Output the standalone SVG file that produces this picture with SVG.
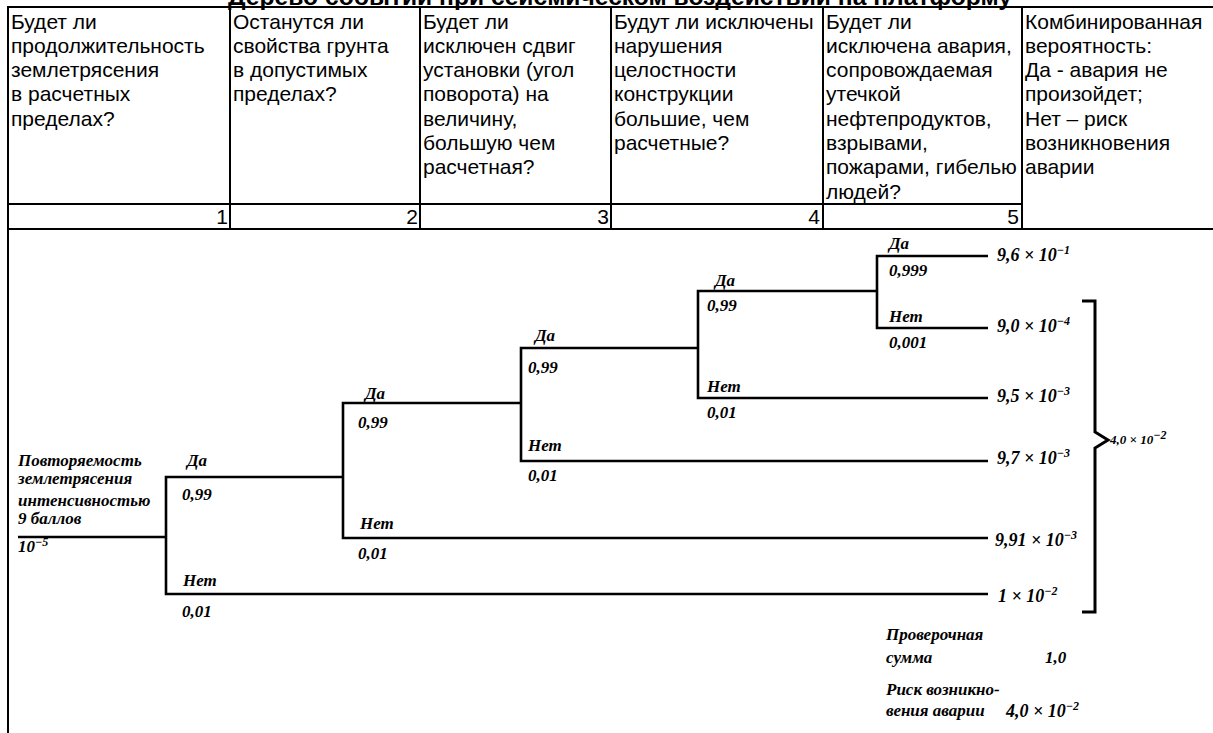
<svg xmlns="http://www.w3.org/2000/svg" width="1213" height="733" viewBox="0 0 1213 733">
<style>
.tl{stroke:#000;stroke-width:2;fill:none}
.th{font-family:"Liberation Sans",Arial,sans-serif;font-size:21px;fill:#000}
.num{text-anchor:end}
.title{font-family:"Liberation Sans",Arial,sans-serif;font-size:24px;font-weight:bold;fill:#000}
.lbl{font-family:"Liberation Serif","Times New Roman",serif;font-size:17px;font-weight:bold;font-style:italic;fill:#000}
.out{font-size:18px}
.sm{font-size:13px}
.sup{font-size:12px}
.br{stroke:#000;stroke-width:2.6;fill:none}
.bk{stroke:#000;stroke-width:3;fill:none;stroke-linejoin:miter}
</style>
<rect width="1213" height="733" fill="#fff"/>
<text class="title" x="228" y="5" textLength="784" lengthAdjust="spacingAndGlyphs">Дерево событий при сейсмическом воздействии на платформу</text>
<g id="table">
<path class="tl" d="M7,7 H1213 M7,204 H1022 M7,229 H1213 M8,7 V733 M230,7 V229 M420,7 V229 M611,7 V229 M823,7 V229 M1022,7 V229"/>
<text class="th" x="11" y="28.5"><tspan x="11">Будет ли</tspan><tspan x="11" dy="24.3">продолжительность</tspan><tspan x="11" dy="24.3">землетрясения</tspan><tspan x="11" dy="24.3">в расчетных</tspan><tspan x="11" dy="24.3">пределах?</tspan></text>
<text class="th" x="233" y="28.5"><tspan x="233">Останутся ли</tspan><tspan x="233" dy="24.3">свойства грунта</tspan><tspan x="233" dy="24.3">в допустимых</tspan><tspan x="233" dy="24.3">пределах?</tspan></text>
<text class="th" x="423" y="28.5"><tspan x="423">Будет ли</tspan><tspan x="423" dy="24.3">исключен сдвиг</tspan><tspan x="423" dy="24.3">установки (угол</tspan><tspan x="423" dy="24.3">поворота) на</tspan><tspan x="423" dy="24.3">величину,</tspan><tspan x="423" dy="24.3">большую чем</tspan><tspan x="423" dy="24.3">расчетная?</tspan></text>
<text class="th" x="614" y="28.5"><tspan x="614">Будут ли исключены</tspan><tspan x="614" dy="24.3">нарушения</tspan><tspan x="614" dy="24.3">целостности</tspan><tspan x="614" dy="24.3">конструкции</tspan><tspan x="614" dy="24.3">большие, чем</tspan><tspan x="614" dy="24.3">расчетные?</tspan></text>
<text class="th" x="826" y="28.5"><tspan x="826">Будет ли</tspan><tspan x="826" dy="24.3">исключена авария,</tspan><tspan x="826" dy="24.3">сопровождаемая</tspan><tspan x="826" dy="24.3">утечкой</tspan><tspan x="826" dy="24.3">нефтепродуктов,</tspan><tspan x="826" dy="24.3">взрывами,</tspan><tspan x="826" dy="24.3">пожарами, гибелью</tspan><tspan x="826" dy="24.3">людей?</tspan></text>
<text class="th" x="1025" y="28.5"><tspan x="1025">Комбинированная</tspan><tspan x="1025" dy="24.3">вероятность:</tspan><tspan x="1025" dy="24.3">Да - авария не</tspan><tspan x="1025" dy="24.3">произойдет;</tspan><tspan x="1025" dy="24.3">Нет – риск</tspan><tspan x="1025" dy="24.3">возникновения</tspan><tspan x="1025" dy="24.3">аварии</tspan></text>
<text class="th num" x="228" y="224">1</text>
<text class="th num" x="418" y="224">2</text>
<text class="th num" x="609" y="224">3</text>
<text class="th num" x="820" y="224">4</text>
<text class="th num" x="1019" y="224">5</text>
</g>
<g id="connectors">
<path class="br" d="M18,537 H166"/>
<path class="br" d="M343,477 H166 V594 H988"/>
<path class="br" d="M521,403 H343 V538 H988"/>
<path class="br" d="M698,348 H521 V461 H988"/>
<path class="br" d="M877,291 H698 V398 H988"/>
<path class="br" d="M988,256 H877 V328 H988"/>
<path class="bk" d="M1082,301 H1095 V432 L1108,440 L1095,448 V612 H1082"/>
</g>
<g id="node-root">
<text class="lbl" x="18" y="466">Повторяемость</text>
<text class="lbl" x="18" y="484">землетрясения</text>
<text class="lbl" x="18" y="506">интенсивностью</text>
<text class="lbl" x="18" y="524">9 баллов</text>
<text class="lbl" x="18" y="552">10<tspan class="sup" dy="-6">−5</tspan></text>
</g>
<g id="node-1">
<text class="lbl" x="187" y="466">Да</text>
<text class="lbl" x="182" y="500">0,99</text>
<text class="lbl" x="183" y="586">Нет</text>
<text class="lbl" x="182" y="617">0,01</text>
</g>
<g id="node-2">
<text class="lbl" x="365" y="399">Да</text>
<text class="lbl" x="358" y="428">0,99</text>
<text class="lbl" x="360" y="529">Нет</text>
<text class="lbl" x="358" y="559">0,01</text>
</g>
<g id="node-3">
<text class="lbl" x="535" y="341">Да</text>
<text class="lbl" x="528" y="373">0,99</text>
<text class="lbl" x="528" y="451">Нет</text>
<text class="lbl" x="528" y="481">0,01</text>
</g>
<g id="node-4">
<text class="lbl" x="715" y="286">Да</text>
<text class="lbl" x="707" y="311">0,99</text>
<text class="lbl" x="707" y="392">Нет</text>
<text class="lbl" x="707" y="418">0,01</text>
</g>
<g id="node-5">
<text class="lbl" x="889" y="249">Да</text>
<text class="lbl" x="889" y="276">0,999</text>
<text class="lbl" x="889" y="322">Нет</text>
<text class="lbl" x="889" y="348">0,001</text>
</g>
<g id="outcomes">
<text class="lbl out" x="997" y="261">9,6 × 10<tspan class="sup" dy="-7">−1</tspan></text>
<text class="lbl out" x="997" y="332">9,0 × 10<tspan class="sup" dy="-7">−4</tspan></text>
<text class="lbl out" x="997" y="402">9,5 × 10<tspan class="sup" dy="-7">−3</tspan></text>
<text class="lbl out" x="997" y="464">9,7 × 10<tspan class="sup" dy="-7">−3</tspan></text>
<text class="lbl out" x="995" y="546">9,91 × 10<tspan class="sup" dy="-7">−3</tspan></text>
<text class="lbl out" x="998" y="602">1 × 10<tspan class="sup" dy="-7">−2</tspan></text>
</g>
<g id="node-total">
<text class="lbl sm" x="1110" y="444">4,0 × 10<tspan class="sup" dy="-5">−2</tspan></text>
</g>
<g id="summary">
<text class="lbl" x="886" y="640">Проверочная</text>
<text class="lbl" x="886" y="663">сумма</text>
<text class="lbl" x="1045" y="663">1,0</text>
<text class="lbl" x="886" y="695">Риск возникно-</text>
<text class="lbl" x="886" y="716">вения аварии</text>
<text class="lbl out" x="1006" y="717">4,0 × 10<tspan class="sup" dy="-7">−2</tspan></text>
</g>
</svg>
